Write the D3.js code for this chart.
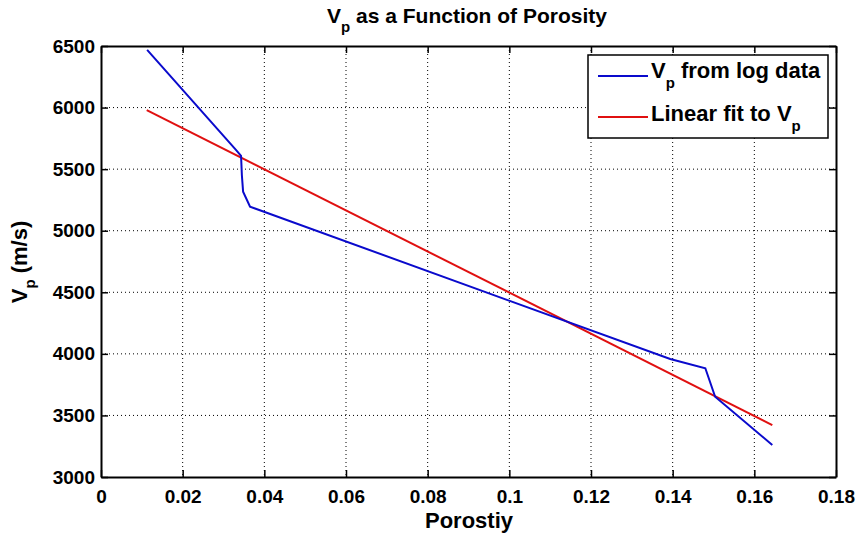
<!DOCTYPE html>
<html><head><meta charset="utf-8">
<script src="https://cdn.jsdelivr.net/npm/d3@7"></script>
<style>
body{margin:0;background:#fff;}
text{font-family:"Liberation Sans",Arial,sans-serif;font-weight:bold;fill:#000;}
</style></head>
<body><svg id="c" width="859" height="537"></svg>
<script>
const xTicks = [0,0.02,0.04,0.06,0.08,0.1,0.12,0.14,0.16,0.18];
const xTickLabels = ["0","0.02","0.04","0.06","0.08","0.1","0.12","0.14","0.16","0.18"];
const yTicks = [3000,3500,4000,4500,5000,5500,6000,6500];
const logPorosity = [0.0113,0.0331,0.0343,0.0345,0.0348,0.0365,0.1394,0.1480,0.1504,0.1644];
const logVp = [6468,5655,5607,5450,5317,5195,3958,3883,3652,3260];
const fitPorosity = [0.0112,0.1644];
const fitVp = [5980,3422];

const svg = d3.select("#c");
const m = {l:101, r:836, t:46, b:477};
const x = d3.scaleLinear().domain([0,0.18]).range([m.l,m.r]);
const y = d3.scaleLinear().domain([3000,6500]).range([m.b,m.t]);

// grid
const g = svg.append("g");
xTicks.slice(1,-1).forEach(t=>{
  g.append("line").attr("x1",x(t)).attr("x2",x(t)).attr("y1",m.t).attr("y2",m.b)
   .attr("stroke","#000").attr("stroke-width",1).attr("stroke-dasharray","1,3");
});
yTicks.slice(1,-1).forEach(t=>{
  g.append("line").attr("y1",y(t)).attr("y2",y(t)).attr("x1",m.l).attr("x2",m.r)
   .attr("stroke","#000").attr("stroke-width",1).attr("stroke-dasharray","1,3");
});

// axes
const xa = svg.append("g").attr("transform",`translate(0,${m.b})`)
  .call(d3.axisBottom(x).tickValues(xTicks).tickSizeInner(-7).tickSizeOuter(0).tickPadding(13)
  .tickFormat((d,i)=>xTickLabels[i]));
const xt = svg.append("g").attr("transform",`translate(0,${m.t})`)
  .call(d3.axisTop(x).tickValues(xTicks).tickSizeInner(-7).tickSizeOuter(0).tickFormat(""));
const ya = svg.append("g").attr("transform",`translate(${m.l},0)`)
  .call(d3.axisLeft(y).tickValues(yTicks).tickSizeInner(-7).tickSizeOuter(0).tickPadding(6)
  .tickFormat(d3.format("d")));
const yr = svg.append("g").attr("transform",`translate(${m.r},0)`)
  .call(d3.axisRight(y).tickValues(yTicks).tickSizeInner(-7).tickSizeOuter(0).tickFormat(""));
[xa,xt,ya,yr].forEach(a=>{
  a.selectAll("path").attr("stroke","#000").attr("stroke-width",2);
  a.selectAll("line").attr("stroke","#000").attr("stroke-width",1.5);
  a.selectAll("text").style("font-size","19px").style("font-family","'Liberation Sans',Arial,sans-serif").style("font-weight","bold");
});

// lines
const line = d3.line().x(d=>x(d[0])).y(d=>y(d[1]));
svg.append("path").datum(fitPorosity.map((p,i)=>[p,fitVp[i]])).attr("d",line)
  .attr("fill","none").attr("stroke","#e01010").attr("stroke-width",2);
svg.append("path").datum(logPorosity.map((p,i)=>[p,logVp[i]])).attr("d",line)
  .attr("fill","none").attr("stroke","#0a0acc").attr("stroke-width",2);

// title
const title = svg.append("text").attr("x",467).attr("y",23).attr("text-anchor","middle").style("font-size","21px");
title.append("tspan").text("V");
title.append("tspan").attr("dy",9).style("font-size","15px").text("p");
title.append("tspan").attr("dy",-9).text(" as a Function of Porosity");

// x label
svg.append("text").attr("x",469).attr("y",528).attr("text-anchor","middle").style("font-size","22px").text("Porostiy");

// y label
const yl = svg.append("text").attr("transform","translate(27,262) rotate(-90)").attr("text-anchor","middle").style("font-size","22px");
yl.append("tspan").text("V");
yl.append("tspan").attr("dy",8).style("font-size","15px").text("p");
yl.append("tspan").attr("dy",-8).text(" (m/s)");

// legend
const lg = svg.append("g");
lg.append("rect").attr("x",588).attr("y",55).attr("width",240).attr("height",83)
  .attr("fill","#fff").attr("stroke","#000").attr("stroke-width",1.5);
const items = [{c:"#0a0acc",y:76,main:"V",sub:"p",rest:" from log data",base:78},
               {c:"#e01010",y:117,main:"Linear fit to V",sub:"p",rest:"",base:121}];
items.forEach(it=>{
  lg.append("line").attr("x1",598).attr("x2",648).attr("y1",it.y).attr("y2",it.y)
    .attr("stroke",it.c).attr("stroke-width",2);
  const t = lg.append("text").attr("x",651).attr("y",it.base).style("font-size","22px");
  t.append("tspan").text(it.main);
  t.append("tspan").attr("dy",10).style("font-size","15px").text(it.sub);
  if(it.rest) t.append("tspan").attr("dy",-10).text(it.rest);
});
</script></body></html>
